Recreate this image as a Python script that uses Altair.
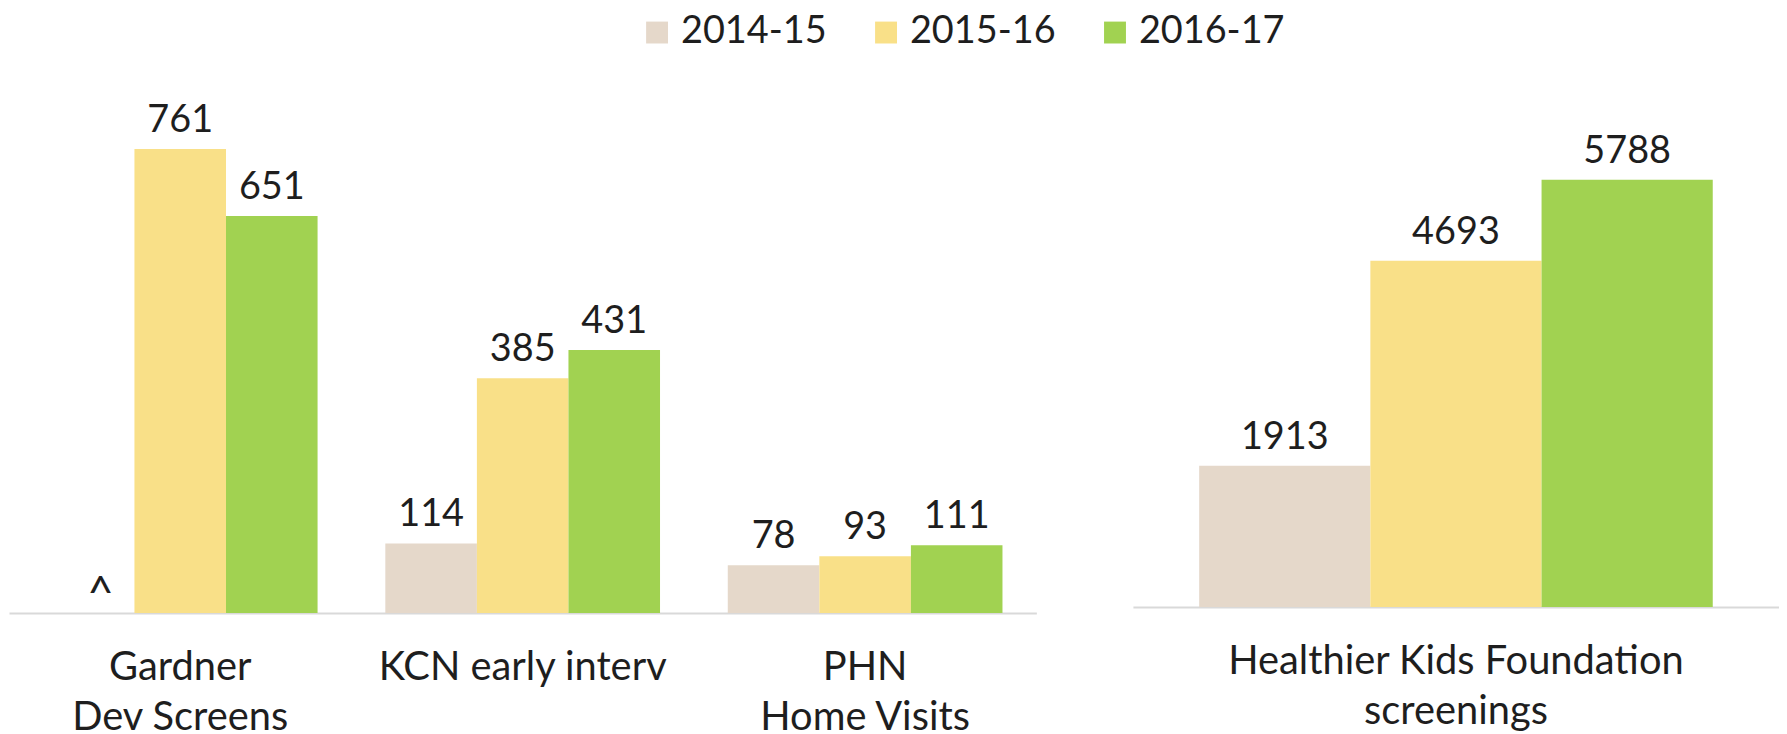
import altair as alt
import pandas as pd

series = ["2014-15", "2015-16", "2016-17"]
colors = ["#E5D8CA", "#F9E088", "#A1D251"]

left_categories = ["Gardner\nDev Screens", "KCN early interv", "PHN\nHome Visits"]
left_2014_15 = [None, 114, 78]
left_2015_16 = [761, 385, 93]
left_2016_17 = [651, 431, 111]

right_categories = ["Healthier Kids Foundation\nscreenings"]
right_2014_15 = [1913]
right_2015_16 = [4693]
right_2016_17 = [5788]

missing_label = "^"

FONT = "Lato"
TXT = "#1e1e1e"


def build(cats, cols):
    rows = []
    for s, vals in zip(series, cols):
        for c, v in zip(cats, vals):
            rows.append({
                "category": c,
                "series": s,
                "value": 0 if v is None else v,
                "label": missing_label if v is None else str(v),
                "missing": v is None,
            })
    return pd.DataFrame(rows)


left_df = build(left_categories, [left_2014_15, left_2015_16, left_2016_17])
right_df = build(right_categories, [right_2014_15, right_2015_16, right_2016_17])


def panel(df, cats, width, height, ymax, legend, outer):
    color = alt.Color("series:N", sort=series,
                      scale=alt.Scale(domain=series, range=colors),
                      legend=legend)
    base = alt.Chart(df).encode(
        x=alt.X("category:N", sort=cats,
                scale=alt.Scale(paddingInner=0, paddingOuter=0),
                axis=alt.Axis(title=None, labelExpr="split(datum.label, '\\n')",
                              labelAngle=0, labelFontSize=40, labelFont=FONT,
                              labelColor=TXT, labelPadding=35, labelLineHeight=50,
                              labelLimit=0,
                              ticks=False, domainColor="#D9D9D9", domainWidth=2,
                              labelBaseline="top")),
        xOffset=alt.XOffset("series:N", sort=series,
                            scale=alt.Scale(paddingOuter=outer, paddingInner=0)),
        y=alt.Y("value:Q", scale=alt.Scale(domain=[0, ymax], nice=False), axis=None),
    )
    bars = base.mark_bar().encode(color=color)
    text = base.transform_filter("!datum.missing").mark_text(
        baseline="alphabetic", dy=-17, font=FONT, fontSize=38, color=TXT
    ).encode(text="label:N")
    miss = base.transform_filter("datum.missing").mark_text(
        baseline="alphabetic", dx=12, dy=-4, font=FONT, fontSize=46, color=TXT
    ).encode(text="label:N")
    return alt.layer(bars, text, miss).properties(width=width, height=height)


legend = alt.Legend(orient="none", legendX=632, legendY=-112, direction="horizontal",
                    title=None, labelFont=FONT, labelFontSize=38, labelColor=TXT,
                    symbolType="square", symbolSize=484, symbolStrokeWidth=0,
                    labelOffset=5, columnPadding=40, padding=0)

left = panel(left_df, left_categories, 1032, 490, 800, legend, 0.37)
right = panel(right_df, right_categories, 649, 484, 6530, None, 0.387)

chart = alt.hconcat(left, right, spacing=97, bounds="flush").resolve_legend(
    color="independent"
).resolve_scale(
    xOffset="independent"
).properties(
    padding={"left": 1, "top": 4, "right": 0, "bottom": 0}
).configure_view(stroke=None)

chart.save("out.html", embed_options={"renderer": "svg", "actions": False})
